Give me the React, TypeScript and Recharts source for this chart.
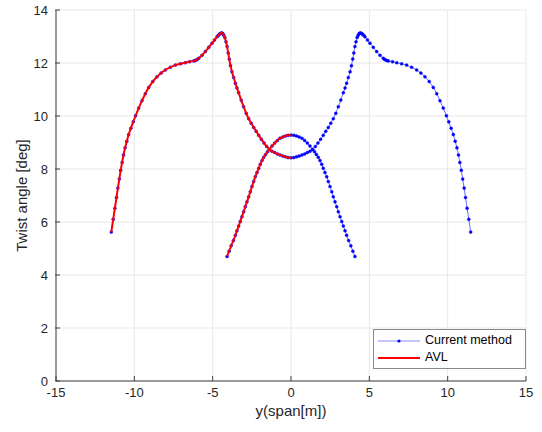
import React from 'react';
import { LineChart, Line, XAxis, YAxis, CartesianGrid, Legend, Label } from 'recharts';

// spanwise station [m] and twist [deg]
// outer curve, left half (tip -> root)
const outerLeftX = [-11.47, -11.35, -11.24, -11.14, -11.05, -10.96, -10.87, -10.78, -10.69, -10.59, -10.48, -10.36, -10.22, -10.07, -9.92, -9.72, -9.51, -9.3, -9.08, -8.82, -8.55, -8.29, -8.02, -7.7, -7.38, -7.06, -6.75, -6.48, -6.21, -6.13, -6.05, -5.97, -5.89, -5.68, -5.47, -5.25, -5.04, -4.88, -4.72, -4.65, -4.58, -4.52, -4.45, -4.4, -4.34, -4.28, -4.22, -4.15, -4.08, -4.01, -3.94, -3.86, -3.77, -3.66, -3.55, -3.45, -3.34, -3.18, -3.02, -2.86, -2.7, -2.54, -2.38, -2.22, -2.06, -1.89, -1.72, -1.55, -1.38, -1.21, -1.04, -0.87, -0.7, -0.52, -0.35, -0.18, 0];
const outerLeftY = [5.62, 6.1, 6.52, 6.92, 7.28, 7.62, 7.95, 8.25, 8.53, 8.8, 9.05, 9.3, 9.54, 9.78, 10.01, 10.3, 10.58, 10.84, 11.08, 11.3, 11.48, 11.62, 11.74, 11.84, 11.92, 11.97, 12.01, 12.05, 12.08, 12.09, 12.11, 12.14, 12.18, 12.29, 12.43, 12.59, 12.75, 12.87, 12.99, 13.04, 13.08, 13.11, 13.13, 13.13, 13.1, 13.04, 12.96, 12.8, 12.62, 12.38, 12.15, 11.9, 11.67, 11.45, 11.24, 11.06, 10.88, 10.6, 10.35, 10.1, 9.9, 9.73, 9.57, 9.42, 9.27, 9.12, 8.98, 8.85, 8.74, 8.67, 8.62, 8.57, 8.53, 8.49, 8.46, 8.43, 8.42];
// outer curve, right half (root -> tip)
const outerRightX = [0.18, 0.35, 0.52, 0.7, 0.87, 1.04, 1.21, 1.38, 1.55, 1.72, 1.89, 2.06, 2.22, 2.38, 2.54, 2.7, 2.86, 3.02, 3.18, 3.34, 3.45, 3.55, 3.66, 3.77, 3.86, 3.94, 4.01, 4.08, 4.15, 4.22, 4.28, 4.34, 4.4, 4.45, 4.52, 4.58, 4.65, 4.72, 4.88, 5.04, 5.25, 5.47, 5.68, 5.89, 5.97, 6.05, 6.13, 6.21, 6.48, 6.75, 7.06, 7.38, 7.7, 8.02, 8.29, 8.55, 8.82, 9.08, 9.3, 9.51, 9.72, 9.92, 10.07, 10.22, 10.36, 10.48, 10.59, 10.69, 10.78, 10.87, 10.96, 11.05, 11.14, 11.24, 11.35, 11.47];
const outerRightY = [8.43, 8.46, 8.49, 8.53, 8.57, 8.62, 8.67, 8.74, 8.85, 8.98, 9.12, 9.27, 9.42, 9.57, 9.73, 9.9, 10.1, 10.35, 10.6, 10.88, 11.06, 11.24, 11.45, 11.67, 11.9, 12.15, 12.38, 12.62, 12.8, 12.96, 13.04, 13.1, 13.13, 13.13, 13.11, 13.08, 13.04, 12.99, 12.87, 12.75, 12.59, 12.43, 12.29, 12.18, 12.14, 12.11, 12.09, 12.08, 12.05, 12.01, 11.97, 11.92, 11.84, 11.74, 11.62, 11.48, 11.3, 11.08, 10.84, 10.58, 10.3, 10.01, 9.78, 9.54, 9.3, 9.05, 8.8, 8.53, 8.25, 7.95, 7.62, 7.28, 6.92, 6.52, 6.1, 5.62];
// inner curve
const innerLeftX = [-4.08, -3.95, -3.82, -3.68, -3.55, -3.45, -3.34, -3.24, -3.13, -3.02, -2.92, -2.81, -2.7, -2.6, -2.49, -2.38, -2.28, -2.17, -2.06, -1.96, -1.85, -1.74, -1.62, -1.5, -1.38, -1.21, -1.04, -0.87, -0.7, -0.52, -0.35, -0.18, 0];
const innerLeftY = [4.7, 4.9, 5.1, 5.3, 5.5, 5.67, 5.85, 6.02, 6.2, 6.39, 6.58, 6.76, 6.95, 7.14, 7.34, 7.53, 7.71, 7.87, 8.03, 8.18, 8.32, 8.44, 8.55, 8.65, 8.74, 8.87, 8.98, 9.08, 9.16, 9.21, 9.25, 9.27, 9.28];
const innerRightX = [0.18, 0.35, 0.52, 0.7, 0.87, 1.04, 1.21, 1.38, 1.5, 1.62, 1.74, 1.85, 1.96, 2.06, 2.17, 2.28, 2.38, 2.49, 2.6, 2.7, 2.81, 2.92, 3.02, 3.13, 3.24, 3.34, 3.45, 3.55, 3.68, 3.82, 3.95, 4.08];
const innerRightY = [9.27, 9.25, 9.21, 9.16, 9.08, 8.98, 8.87, 8.74, 8.65, 8.55, 8.44, 8.32, 8.18, 8.03, 7.87, 7.71, 7.53, 7.34, 7.14, 6.95, 6.76, 6.58, 6.39, 6.2, 6.02, 5.85, 5.67, 5.5, 5.3, 5.1, 4.9, 4.7];

const xTicks = [-15, -10, -5, 0, 5, 10, 15];
const yTicks = [0, 2, 4, 6, 8, 10, 12, 14];

const pts = (xs: number[], ys: number[]) => xs.map((x, i) => ({ x, y: ys[i] }));

const currentOuter = [...pts(outerLeftX, outerLeftY), ...pts(outerRightX, outerRightY)];
const currentInner = [...pts(innerLeftX, innerLeftY), ...pts(innerRightX, innerRightY)];
const avlOuter = pts(outerLeftX, outerLeftY);
const avlInner = pts(innerLeftX, innerLeftY);

const FONT = '"Liberation Sans", Arial, sans-serif';
const TXT = '#262626';
const AXIS = '#404040';
const TM = 7; // gap between axis and tick labels

const XTick = (p: any) => (
  <g>
    <line x1={p.x} x2={p.x} y1={p.y - TM} y2={p.y - TM - 5} stroke={AXIS} />
    <text x={p.x} y={p.y} dy="0.71em" textAnchor="middle" fontSize={13} fontFamily={FONT} fill={TXT}>
      {p.payload.value}
    </text>
  </g>
);

const YTick = (p: any) => (
  <g>
    <line x1={p.x + TM} x2={p.x + TM + 5} y1={p.y} y2={p.y} stroke={AXIS} />
    <text x={p.x} y={p.y} dy="0.35em" textAnchor="end" fontSize={13} fontFamily={FONT} fill={TXT}>
      {p.payload.value}
    </text>
  </g>
);

const LegendBox = () => (
  <div
    style={{
      border: '1px solid #8a8a8a',
      background: '#fff',
      fontFamily: FONT,
      fontSize: 12.5,
      color: '#000',
      padding: '2px 4px',
      lineHeight: '17px',
    }}
  >
    <div style={{ display: 'flex', alignItems: 'center' }}>
      <svg width={44} height={10} style={{ marginRight: 3 }}>
        <line x1={0} x2={42} y1={5} y2={5} stroke="#8f8fff" strokeWidth={1} />
        <circle cx={21} cy={5} r={1.6} fill="#0000ff" />
      </svg>
      Current method
    </div>
    <div style={{ display: 'flex', alignItems: 'center' }}>
      <svg width={44} height={10} style={{ marginRight: 3 }}>
        <line x1={0} x2={42} y1={5} y2={5} stroke="#ff0000" strokeWidth={2} />
      </svg>
      AVL
    </div>
  </div>
);

export default function App() {
  const blueDot = { r: 1.5, fill: '#0000ff', stroke: '#0000ff', strokeWidth: 0.4 };
  const redLine = {
    type: 'monotone' as const,
    dataKey: 'y',
    stroke: '#ff0000',
    strokeWidth: 2,
    dot: false,
    isAnimationActive: false,
    zIndex: 700,
  };
  return (
    <div style={{ position: 'absolute', left: 0, top: 0, background: '#fff' }}>
      <LineChart width={542} height={432} margin={{ top: 10, right: 16, bottom: 27, left: 0 }}>
        <CartesianGrid stroke="#e8e8e8" strokeWidth={1} />
        <XAxis
          type="number"
          dataKey="x"
          domain={[-15, 15]}
          ticks={xTicks}
          allowDataOverflow
          height={24}
          tickSize={0}
          tickMargin={TM}
          tickLine={false}
          axisLine={{ stroke: AXIS }}
          tick={(p: any) => <XTick {...p} />}
        >
          <Label
            value="y(span[m])"
            position="bottom"
            offset={0}
            style={{ fontSize: 15, fontFamily: FONT, fill: TXT }}
          />
        </XAxis>
        <YAxis
          type="number"
          domain={[0, 14]}
          ticks={yTicks}
          allowDataOverflow
          width={56}
          tickSize={0}
          tickMargin={TM + 1}
          tickLine={false}
          axisLine={{ stroke: AXIS }}
          tick={(p: any) => <YTick {...p} />}
        >
          <Label
            value="Twist angle [deg]"
            angle={-90}
            position="insideLeft"
            offset={22}
            style={{ fontSize: 15, fontFamily: FONT, fill: TXT, textAnchor: 'middle' }}
          />
        </YAxis>
        <Legend
          layout="vertical"
          align="center"
          verticalAlign="middle"
          content={() => <LegendBox />}
          wrapperStyle={{ position: 'absolute', left: 373, top: 329, width: 153, height: 38 }}
        />
        <Line
          data={currentOuter}
          dataKey="y"
          name="Current method"
          type="monotone"
          stroke="#5a5aff"
          strokeWidth={0.9}
          dot={blueDot}
          isAnimationActive={false}
        />
        <Line
          data={currentInner}
          dataKey="y"
          name="Current method (inner)"
          type="monotone"
          stroke="#5a5aff"
          strokeWidth={0.9}
          dot={blueDot}
          legendType="none"
          isAnimationActive={false}
        />
        <Line {...redLine} data={avlOuter} name="AVL" />
        <Line {...redLine} data={avlInner} name="AVL (inner)" legendType="none" />
      </LineChart>
    </div>
  );
}
